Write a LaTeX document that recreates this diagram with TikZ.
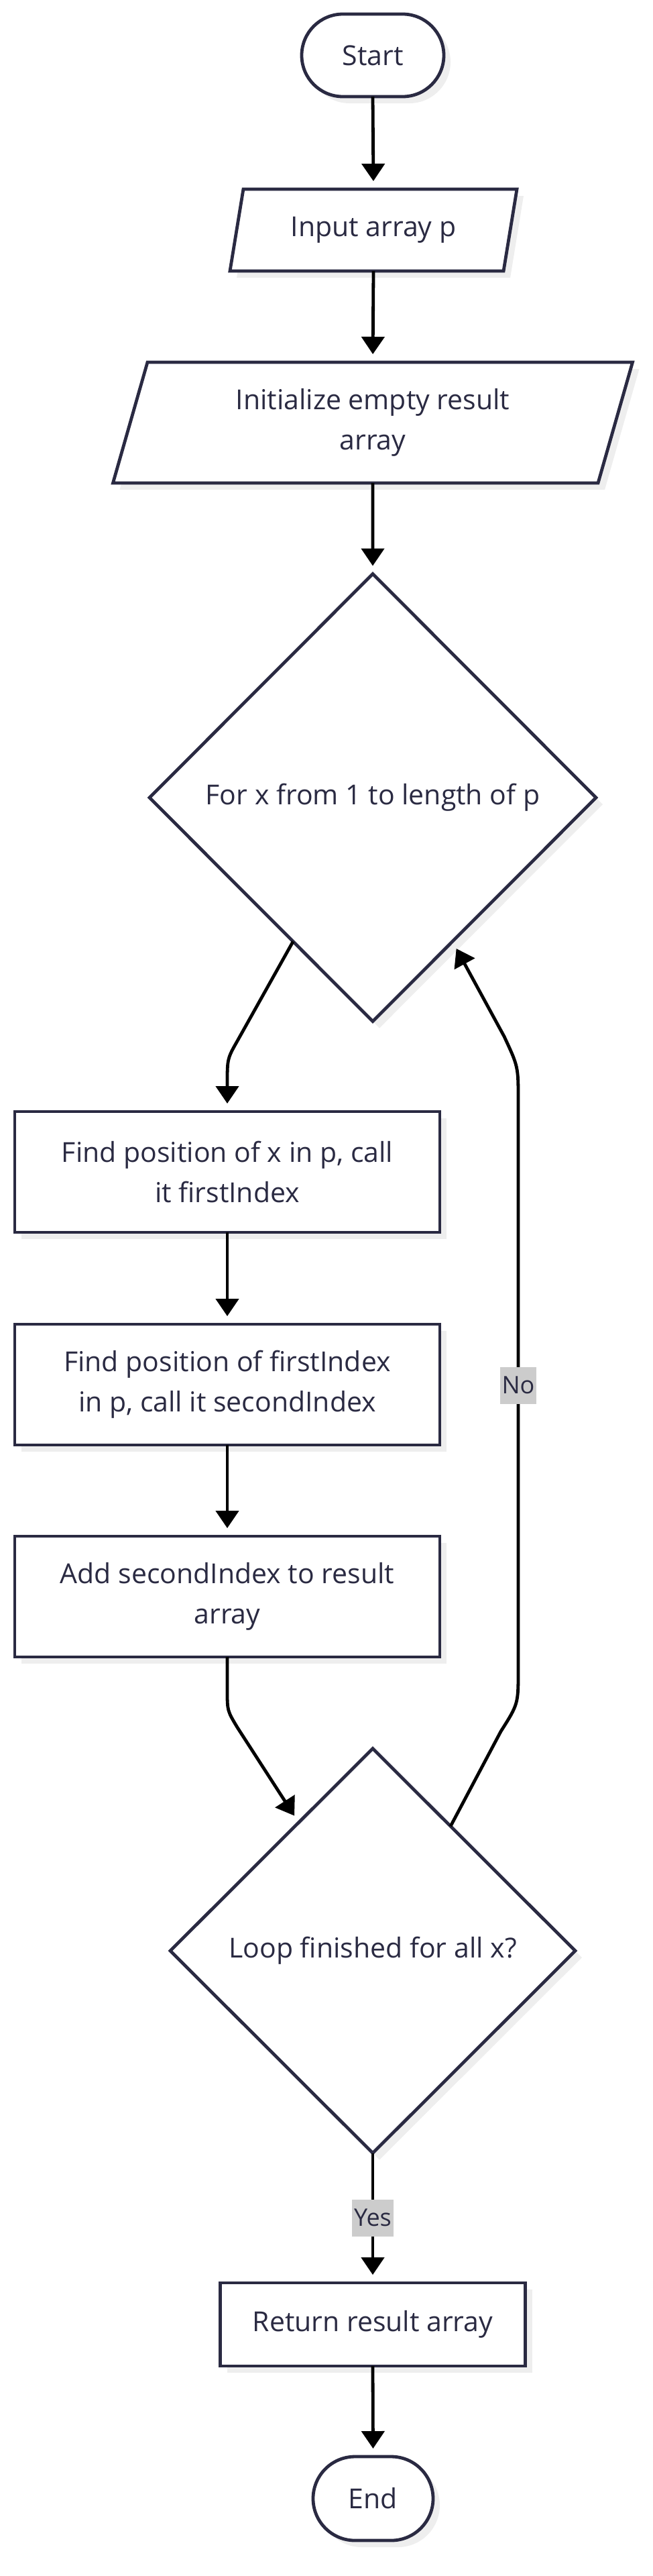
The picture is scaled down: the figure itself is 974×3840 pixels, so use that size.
\documentclass[tikz,border=0pt]{standalone}
\usepackage{fontspec}
\setmainfont{Open Sans}
\usetikzlibrary{shapes.geometric,shapes.misc,shadows,arrows.meta}
\definecolor{ink}{RGB}{42,42,66}
\definecolor{shade}{RGB}{238,238,238}
\definecolor{lblbg}{RGB}{204,204,204}
\begin{document}
\begin{tikzpicture}[x=0.5pt,y=-0.5pt,
  txt/.style={text=ink, font=\fontsize{20.5}{30}\selectfont, align=center},
  base/.style={txt, draw=ink, line width=2.4pt, fill=white, inner sep=0pt, outer sep=0pt,
    drop shadow={shadow xshift=5pt, shadow yshift=-5pt, fill=shade, opacity=1}},
  term/.style={base, rounded rectangle},
  proc/.style={base, rectangle},
  io/.style={base, trapezium, trapezium left angle=63, trapezium right angle=117, trapezium stretches body},
  dec/.style={base, diamond},
  edge/.style={draw=black, line width=2.4pt, -{Triangle[width=17pt,length=13pt]}, shorten >=6pt},
  lbl/.style={fill=lblbg, text=ink, font=\fontsize{18}{27}\selectfont, inner xsep=1.5pt, inner ysep=0pt, minimum height=27.5pt}
]
\useasboundingbox (0,0) rectangle (974,3840);

\node[term, minimum width=106pt, minimum height=61.5pt] (start) at (556,82.5) {Start};
\node[io, minimum width=214pt, minimum height=61pt] (input) at (557,343) {Input array p};
\node[io, minimum width=387.5pt, minimum height=90pt] (init) at (556,630) {Initialize empty result\\array};
\node[dec, minimum width=333pt, minimum height=333.5pt] (loop) at (556,1189) {For x from 1 to length of p};
\node[proc, minimum width=317pt, minimum height=90pt] (find1) at (339,1747) {Find position of x in p, call\\it firstIndex};
\node[proc, minimum width=317pt, minimum height=90pt] (find2) at (339,2064) {Find position of firstIndex\\in p, call it secondIndex};
\node[proc, minimum width=317pt, minimum height=90pt] (add) at (339,2380) {Add secondIndex to result\\array};
\node[dec, minimum width=302pt, minimum height=301.5pt] (check) at (556,2908) {Loop finished for all x?};
\node[proc, minimum width=227.5pt, minimum height=62pt] (ret) at (556,3465) {Return result array};
\node[term, minimum width=89.5pt, minimum height=62.5pt] (end) at (556.5,3724.5) {End};

\draw[edge] (start.south) -- (input.north);
\draw[edge] (input.south) -- (init.north);
\draw[edge] (init.south) -- (loop.north);
\draw[edge] (loop.241) -- (355,1550) .. controls (339,1578) .. (339,1615) -- (find1.north);
\draw[edge] (find1.south) -- (find2.north);
\draw[edge] (find2.south) -- (add.north);
\draw[edge] (add.south) -- (339,2520) .. controls (339,2550) .. (354,2575) -- (check.120);
\draw[edge] (check.58) -- (747,2581) .. controls (773,2540) .. (773,2490) -- node[lbl]{No} (773,1640) .. controls (773,1590) .. (752,1545) -- (loop.-61);
\draw[edge] (check.south) -- node[lbl]{Yes} (ret.north);
\draw[edge] (ret.south) -- (end.north);
\end{tikzpicture}
\end{document}
